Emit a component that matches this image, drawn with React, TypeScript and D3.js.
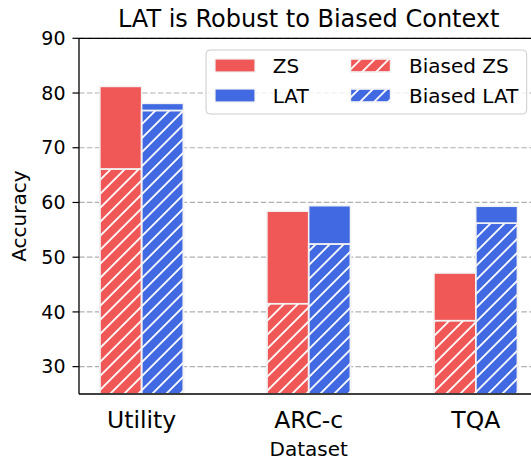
import React from "react";
import * as d3 from "d3";

const categories = ["Utility", "ARC-c", "TQA"];
const zsValues = [81.2, 58.4, 47.1];
const latValues = [78.1, 59.4, 59.3];
const biasedZsValues = [66.1, 41.5, 38.4];
const biasedLatValues = [76.8, 52.4, 56.2];
const yTicks = [30, 40, 50, 60, 70, 80, 90];
const legendItems = [
  { label: "ZS", color: "#f05858", hatch: false },
  { label: "LAT", color: "#4169e1", hatch: false },
  { label: "Biased ZS", color: "#f05858", hatch: true },
  { label: "Biased LAT", color: "#4169e1", hatch: true },
];

const W = 531;
const H = 462;
const RED = "#f05858";
const BLUE = "#4169e1";
const FONT = "DejaVu Sans, Verdana, sans-serif";

export default function App() {
  const x = d3.scaleLinear().domain([-0.375, 2.375]).range([79, 538.4]);
  const y = d3.scaleLinear().domain([25, 90]).range([394, 38.3]);
  const bw = x(0.25) - x(0);
  const edge = "#f2f2f2";

  const bar = (i: number, offset: number, v: number, color: string, hatch: boolean, key: string) => {
    const x0 = x(i + offset);
    const y0 = y(v);
    const h = y(25) - y0;
    return (
      <g key={key}>
        <rect x={x0} y={y0} width={bw} height={h} fill={color} stroke={edge} strokeWidth={1.5} />
        {hatch && <rect x={x0} y={y0} width={bw} height={h} fill="url(#hatch)" stroke={edge} strokeWidth={1.5} />}
      </g>
    );
  };

  return (
    <svg width={W} height={H} style={{ position: "absolute", left: 0, top: 0, background: "#fff" }} fontFamily={FONT}>
      <defs>
        <pattern id="hatch" patternUnits="userSpaceOnUse" width={14} height={14}>
          <path d="M-3.5,3.5 L3.5,-3.5 M0,14 L14,0 M10.5,17.5 L17.5,10.5" stroke="#ffffff" strokeWidth={1.8} />
        </pattern>
        <clipPath id="plotclip">
          <rect x={79} y={38.3} width={538.4 - 79} height={394 - 38.3} />
        </clipPath>
      </defs>
      <rect x={0} y={0} width={W} height={H} fill="#fff" />
      {yTicks.map((t) => (
        <line key={"g" + t} x1={79} x2={538.4} y1={y(t)} y2={y(t)} stroke="#b0b0b0" strokeWidth={1.2} strokeDasharray="5.5 2.4" />
      ))}
      <g clipPath="url(#plotclip)">
        {categories.map((c, i) => (
          <g key={c}>
            {bar(i, -0.25, zsValues[i], RED, false, "zs")}
            {bar(i, -0.25, biasedZsValues[i], RED, true, "bzs")}
            {bar(i, 0, latValues[i], BLUE, false, "lat")}
            {bar(i, 0, biasedLatValues[i], BLUE, true, "blat")}
          </g>
        ))}
      </g>
      <line x1={79} x2={79} y1={38.3} y2={394} stroke="#000" strokeWidth={1.3} />
      <line x1={79} x2={538.4} y1={394} y2={394} stroke="#000" strokeWidth={1.3} />
      <line x1={79} x2={538.4} y1={38.3} y2={38.3} stroke="#000" strokeWidth={1.3} />
      {yTicks.map((t) => (
        <g key={"t" + t}>
          <line x1={72.5} x2={79} y1={y(t)} y2={y(t)} stroke="#000" strokeWidth={1.2} />
          <text x={65.5} y={y(t)} dy="0.35em" textAnchor="end" fontSize={19} fill="#000">
            {t}
          </text>
        </g>
      ))}
      {categories.map((c, i) => (
        <text key={"xl" + c} x={x(i)} y={428.3} textAnchor="middle" fontSize={23.5} fill="#000">
          {c}
        </text>
      ))}
      <text x={(79 + 538.4) / 2} y={456} textAnchor="middle" fontSize={20} fill="#000">
        Dataset
      </text>
      <text transform={`translate(26,${(38.3 + 394) / 2}) rotate(-90)`} textAnchor="middle" fontSize={20} fill="#000">
        Accuracy
      </text>
      <text x={(79 + 538.4) / 2} y={26.7} textAnchor="middle" fontSize={24} fill="#000">
        LAT is Robust to Biased Context
      </text>
      <rect x={206} y={50} width={320.7} height={64} rx={4} fill="#fff" fillOpacity={0.8} stroke="#cccccc" strokeWidth={1} />
      {legendItems.map((it, k) => {
        const col = Math.floor(k / 2);
        const row = k % 2;
        const px = col === 0 ? 215 : 350.5;
        const tx = col === 0 ? 272.7 : 409;
        const cy = row === 0 ? 65.5 : 95.5;
        return (
          <g key={it.label}>
            <rect x={px} y={cy - 6.5} width={40} height={13} fill={it.color} stroke={edge} strokeWidth={1.2} />
            {it.hatch && <rect x={px} y={cy - 6.5} width={40} height={13} fill="url(#hatch)" stroke={edge} strokeWidth={1.2} />}
            <text x={tx} y={cy} dy="0.35em" fontSize={20} fill="#000">
              {it.label}
            </text>
          </g>
        );
      })}
    </svg>
  );
}
